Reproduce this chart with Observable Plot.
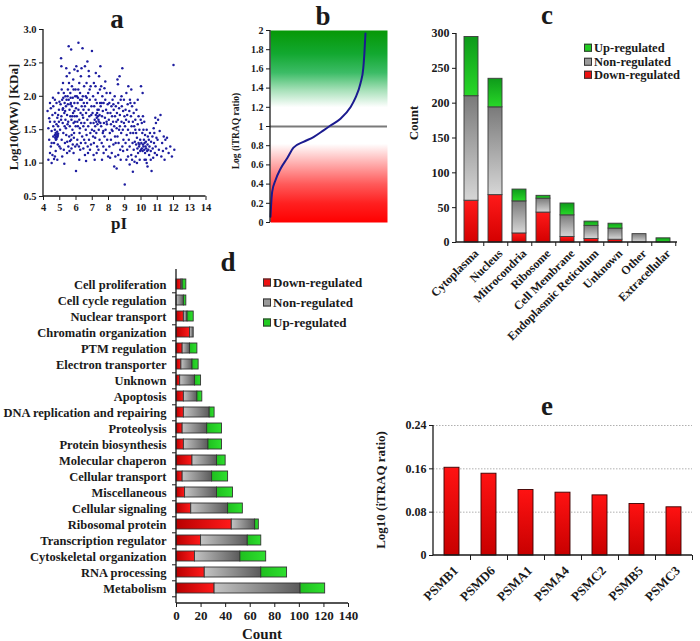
<!DOCTYPE html>
<html><head><meta charset="utf-8">
<script src="https://cdn.jsdelivr.net/npm/d3@7"></script>
<script src="https://cdn.jsdelivr.net/npm/@observablehq/plot@0.6"></script>
<style>
body{margin:0;background:#fff;}
#root{position:relative;width:700px;height:641px;overflow:hidden;font-family:"Liberation Serif","Times New Roman",serif;font-weight:bold;color:#1a1a1a;}
.t{position:absolute;font-weight:bold;white-space:nowrap;line-height:1;}
.leg{position:absolute;font-weight:bold;white-space:nowrap;display:flex;align-items:center;line-height:1;}
.sw{width:6px;height:6px;border:1px solid #333;margin-right:2px;flex:none;}
</style></head><body><div id="root"></div>
<script>
// ---------- DATA ----------
const regulationTypes = ["Down-regulated", "Non-regulated", "Up-regulated"];

// panel a: pI vs log10(MW)
const scatterPoints = [
[4.25,1.78],[4.3,1.05],[4.35,1.35],[4.4,1.9],[4.4,1.62],[4.45,1.25],[4.5,1.48],[4.5,1.0],[4.55,1.72],[4.55,1.12],[4.6,1.4],[4.6,1.85],[4.6,1.55],[4.3,1.52],[4.45,1.82],[4.35,1.67],[4.5,1.3],[4.65,1.06],[4.4,1.15],[4.58,1.98],
[4.7,1.42],[4.72,1.38],[4.75,1.45],[4.78,1.4],[4.8,1.36],[4.82,1.43],[4.85,1.39],[4.88,1.41],[4.9,1.44],[4.76,1.35],[4.84,1.47],[4.7,1.5],[4.68,1.62],[4.72,1.75],[4.8,1.9],[4.85,1.68],[4.9,1.55],[4.95,1.8],[4.98,1.25],[4.75,1.18],[4.85,1.05],[4.7,1.95],[4.92,2.05],[4.65,1.3],[4.95,1.62],[4.8,1.58],[4.88,1.28],[4.7,1.1],[4.98,1.92],[4.9,1.72],
[5.02,1.5],[5.05,1.88],[5.08,2.57],[5.1,2.45],[5.1,1.7],[5.12,1.35],[5.15,1.95],[5.18,1.6],[5.2,2.2],[5.2,1.82],[5.22,1.45],[5.25,1.2],[5.25,2.05],[5.28,1.75],[5.3,1.9],[5.3,1.55],[5.32,1.3],[5.35,2.0],[5.35,1.65],[5.38,1.85],[5.4,1.42],[5.4,2.42],[5.42,1.95],[5.45,1.72],[5.45,1.15],[5.48,1.58],[5.5,1.88],[5.5,2.1],[5.05,1.22],[5.15,1.1],[5.28,0.99],[5.12,2.1],[5.38,1.52],[5.22,1.98],[5.46,1.32],[5.18,1.8],[5.33,1.78],[5.43,2.3],[5.08,1.65],[5.48,2.0],
[5.52,1.62],[5.55,1.95],[5.55,2.75],[5.58,1.4],[5.6,1.8],[5.6,2.35],[5.62,1.55],[5.65,2.05],[5.65,1.7],[5.68,1.9],[5.7,2.7],[5.7,1.35],[5.72,1.65],[5.75,2.15],[5.75,1.85],[5.78,1.5],[5.8,1.98],[5.8,1.28],[5.82,1.75],[5.85,2.1],[5.85,1.6],[5.88,1.45],[5.9,1.9],[5.9,2.4],[5.92,1.7],[5.95,1.25],[5.95,2.0],[5.98,1.55],[6.0,0.88],[6.0,1.82],[5.53,1.25],[5.57,2.2],[5.63,1.33],[5.67,1.98],[5.73,1.42],[5.77,1.7],[5.83,2.25],[5.87,1.38],[5.93,1.62],[5.97,2.1],[5.6,1.18],[5.72,1.22],[5.85,1.15],[5.9,1.78],[5.66,1.88],
[6.02,2.45],[6.05,1.7],[6.05,2.0],[6.08,1.35],[6.1,1.9],[6.1,2.38],[6.12,1.55],[6.15,2.8],[6.15,1.8],[6.18,1.25],[6.2,2.2],[6.2,1.65],[6.22,1.45],[6.25,1.95],[6.25,2.05],[6.28,1.75],[6.3,1.3],[6.3,2.3],[6.32,1.6],[6.35,1.85],[6.38,1.4],[6.4,2.72],[6.4,1.72],[6.42,2.0],[6.45,1.55],[6.45,1.22],[6.48,1.9],[6.5,2.15],[6.5,1.35],[6.06,1.28],[6.14,2.1],[6.24,1.52],[6.34,2.42],[6.44,1.68],[6.12,1.98],[6.26,1.2],[6.36,1.95],[6.46,1.8],[6.2,1.05],[6.08,1.62],
[6.52,1.6],[6.55,2.45],[6.55,1.85],[6.58,1.3],[6.6,2.0],[6.6,1.5],[6.62,1.75],[6.65,2.2],[6.65,1.42],[6.68,1.9],[6.7,2.52],[6.7,1.65],[6.72,1.25],[6.75,2.05],[6.75,1.55],[6.78,1.8],[6.8,2.3],[6.8,1.35],[6.82,1.7],[6.85,1.95],[6.88,1.45],[6.9,2.15],[6.9,1.6],[6.92,1.28],[6.95,1.85],[6.98,2.68],[6.98,1.5],[6.55,1.12],[6.62,1.03],[6.74,1.15],[6.84,2.1],[6.94,1.72],[6.66,1.98],[6.86,1.2],[6.78,2.38],
[7.02,1.75],[7.05,2.0],[7.05,1.4],[7.08,1.6],[7.1,2.2],[7.1,1.3],[7.12,1.85],[7.15,1.65],[7.15,1.05],[7.18,1.55],[7.2,1.95],[7.2,2.15],[7.22,1.72],[7.25,1.45],[7.25,1.62],[7.28,1.68],[7.3,1.75],[7.3,1.25],[7.32,1.58],[7.35,1.7],[7.35,2.05],[7.38,1.65],[7.4,1.8],[7.4,1.5],[7.42,2.3],[7.45,1.72],[7.45,1.35],[7.48,1.9],[7.5,2.45],[7.5,1.6],[7.08,1.12],[7.18,1.38],[7.28,1.9],[7.38,1.2],[7.12,1.48],[7.22,2.35],[7.32,1.8],[7.42,1.62],[7.27,1.15],[7.47,2.1],
[7.52,1.85],[7.55,1.55],[7.55,2.15],[7.58,1.3],[7.6,1.7],[7.62,2.0],[7.65,1.45],[7.65,1.78],[7.68,1.25],[7.7,1.9],[7.72,1.6],[7.75,2.12],[7.75,1.4],[7.78,1.68],[7.8,1.95],[7.82,1.5],[7.85,1.2],[7.85,1.8],[7.88,2.05],[7.9,1.58],[7.92,1.35],[7.95,1.75],[7.98,1.1],[7.6,1.05],[7.7,1.15],[7.8,2.22],[7.58,1.9],[7.68,1.48],[7.88,1.62],[7.95,1.88],
[8.02,1.65],[8.05,1.9],[8.05,1.25],[8.08,1.45],[8.1,2.05],[8.12,1.75],[8.15,1.35],[8.15,1.58],[8.18,1.85],[8.2,1.15],[8.22,1.7],[8.25,1.95],[8.25,1.48],[8.28,1.62],[8.3,1.28],[8.32,1.8],[8.35,1.55],[8.38,2.0],[8.4,1.4],[8.4,1.7],[8.42,1.1],[8.45,1.85],[8.48,1.62],[8.5,0.92],[8.5,1.52],[8.1,1.08],[8.3,1.88],[8.2,1.5],[8.44,1.3],[8.35,0.95],
[8.52,1.75],[8.55,2.25],[8.55,1.4],[8.58,1.65],[8.6,1.9],[8.62,1.3],[8.65,1.82],[8.68,2.3],[8.7,1.55],[8.7,1.72],[8.72,1.2],[8.75,1.95],[8.78,1.45],[8.8,1.62],[8.82,1.85],[8.85,1.25],[8.85,2.42],[8.88,1.5],[8.9,1.78],[8.92,1.35],[8.95,1.6],[8.98,1.7],[9.0,0.68],[8.6,1.12],[8.75,1.05],[8.9,1.18],[8.65,1.5],[8.8,2.0],[8.95,1.95],[8.58,2.18],
[9.02,1.55],[9.05,1.8],[9.05,1.3],[9.08,1.65],[9.1,2.05],[9.12,1.42],[9.15,1.72],[9.15,1.2],[9.18,1.88],[9.2,1.5],[9.22,2.15],[9.25,1.35],[9.25,1.62],[9.28,1.78],[9.3,1.25],[9.32,1.95],[9.35,1.45],[9.38,1.7],[9.4,1.12],[9.4,2.1],[9.42,1.55],[9.45,1.85],[9.48,1.3],[9.5,0.87],[9.5,1.62],[9.1,1.05],[9.3,0.98],[9.2,1.1],[9.45,1.05],[9.35,1.9],
[9.52,1.45],[9.55,1.75],[9.55,1.2],[9.58,1.55],[9.6,1.9],[9.62,1.32],[9.65,1.65],[9.68,1.1],[9.7,1.45],[9.7,1.28],[9.72,1.8],[9.75,1.38],[9.78,1.22],[9.8,1.58],[9.82,1.15],[9.85,1.7],[9.85,1.3],[9.88,1.25],[9.9,1.5],[9.92,1.05],[9.95,1.35],[9.98,1.65],[10.0,2.15],[10.0,1.2],[9.6,1.02],[9.75,1.0],[9.9,1.28],[9.65,1.5],[9.8,1.95],[9.95,1.18],
[10.02,1.3],[10.05,1.6],[10.05,1.22],[10.08,1.45],[10.1,2.05],[10.1,1.18],[10.12,1.28],[10.15,1.5],[10.15,1.25],[10.18,1.35],[10.2,1.2],[10.2,1.62],[10.22,1.3],[10.25,1.15],[10.25,1.42],[10.28,1.25],[10.3,1.05],[10.3,1.32],[10.32,1.22],[10.35,1.5],[10.38,1.18],[10.4,1.28],[10.4,0.95],[10.42,1.4],[10.45,1.2],[10.48,1.35],[10.5,1.12],[10.12,1.7],[10.35,1.0],[10.22,1.05],
[10.52,1.25],[10.55,1.45],[10.6,1.18],[10.62,1.32],[10.65,0.88],[10.7,1.4],[10.72,1.22],[10.75,1.08],[10.8,1.3],[10.82,1.45],[10.85,1.15],[10.9,1.25],[10.92,1.6],[10.95,1.38],[10.98,1.12],[10.6,1.05],[10.78,1.52],[10.88,1.68],
[11.02,1.35],[11.05,1.65],[11.1,1.2],[11.15,1.48],[11.2,1.72],[11.25,1.1],[11.3,1.3],[11.4,1.4],[11.45,1.05],[11.5,1.35],[11.6,1.38],[11.7,1.15],[11.8,1.25],[11.9,1.1],[12.0,2.47],[12.05,1.2],[11.35,1.18],[11.55,1.22]
];
const scatterTicksX = [4, 5, 6, 7, 8, 9, 10, 11, 12, 13, 14];
const scatterTicksY = [0.5, 1.0, 1.5, 2.0, 2.5, 3.0];

// panel b: sorted log iTRAQ ratios (rank, value)
const ratioRank  = [0, 5, 17, 51, 103, 171, 236, 338, 441, 544, 615, 718, 820, 872, 923, 951, 964, 974];
const ratioValue = [0.06, 0.16, 0.32, 0.44, 0.56, 0.67, 0.78, 0.84, 0.89, 0.96, 1.01, 1.08, 1.2, 1.3, 1.45, 1.6, 1.78, 1.97];
const ratioTicks = [0, 0.2, 0.4, 0.6, 0.8, 1, 1.2, 1.4, 1.6, 1.8, 2];

// panel c: subcellular location
const locationCats = ["Cytoplasma", "Nucleus", "Mitrocondria", "Ribosome", "Cell Membrane", "Endoplasmic Reticulum", "Unknown", "Other", "Extracellular"];
const locDown = [60, 68, 13, 43, 8, 5, 4, 0, 0];
const locNon  = [150, 126, 46, 20, 31, 19, 16, 12, 0];
const locUp   = [85, 41, 17, 4, 17, 6, 7, 0, 6];
const locTicks = [0, 50, 100, 150, 200, 250, 300];

// panel d: biological function
const functionCats = ["Cell proliferation", "Cell cycle regulation", "Nuclear transport", "Chromatin organization", "PTM regulation", "Electron transporter", "Unknown", "Apoptosis", "DNA replication and repairing", "Proteolysis", "Protein biosynthesis", "Molecular chaperon", "Cellular transport", "Miscellaneous", "Cellular signaling", "Ribosomal protein", "Transcription regulator", "Cytoskeletal organization", "RNA processing", "Metabolism"];
const funcDown = [4, 0, 6, 11, 5, 4, 3, 6, 6, 5, 6, 13, 5, 7, 12, 45, 20, 15, 23, 31];
const funcNon  = [1, 6, 3, 3, 6, 9, 12, 11, 21, 20, 20, 20, 24, 26, 30, 19, 38, 37, 46, 70];
const funcUp   = [3, 2, 5, 0, 6, 5, 5, 4, 4, 12, 11, 7, 13, 13, 12, 3, 11, 21, 21, 20];
const funcTicks = [0, 20, 40, 60, 80, 100, 120, 140];

// panel e: proteasome subunits
const proteasomeGenes = ["PSMB1", "PSMD6", "PSMA1", "PSMA4", "PSMC2", "PSMB5", "PSMC3"];
const proteasomeRatio = [0.162, 0.151, 0.121, 0.116, 0.111, 0.095, 0.089];
const proteasomeTicks = [0, 0.08, 0.16, 0.24];

// ---------- TABLES ----------
const curve = ratioRank.map((r, i) => ({rank: r, value: ratioValue[i]}));
const tableC = [];
locationCats.forEach((c, i) => {
  [[regulationTypes[0], locDown[i]], [regulationTypes[1], locNon[i]], [regulationTypes[2], locUp[i]]]
    .forEach(([t, v]) => { if (v > 0) tableC.push({cat: c, type: t, count: v}); });
});
const tableD = [];
functionCats.forEach((c, i) => {
  [[regulationTypes[0], funcDown[i]], [regulationTypes[1], funcNon[i]], [regulationTypes[2], funcUp[i]]]
    .forEach(([t, v]) => { if (v > 0) tableD.push({cat: c, type: t, count: v}); });
});
const tableE = proteasomeGenes.map((g, i) => ({gene: g, ratio: proteasomeRatio[i]}));

// ---------- HELPERS ----------
const root = document.getElementById("root");
root.insertAdjacentHTML("afterbegin", `<svg width="0" height="0" style="position:absolute;left:0;top:0"><defs>
<linearGradient id="bGrad" x1="0" y1="0" x2="0" y2="1">
 <stop offset="0" stop-color="#069806"/><stop offset="0.12" stop-color="#12a830"/><stop offset="0.22" stop-color="#3cbc66"/>
 <stop offset="0.31" stop-color="#a6e0b8"/><stop offset="0.40" stop-color="#ffffff"/><stop offset="0.59" stop-color="#ffffff"/>
 <stop offset="0.70" stop-color="#ffa8a8"/><stop offset="0.80" stop-color="#ff5a5a"/><stop offset="0.90" stop-color="#ff2020"/><stop offset="1" stop-color="#ff0000"/>
</linearGradient>
<linearGradient id="cDown" x1="0" y1="0" x2="0" y2="1"><stop offset="0" stop-color="#ff1a1a"/><stop offset="1" stop-color="#d40000"/></linearGradient>
<linearGradient id="cNon" x1="0" y1="0" x2="0" y2="1"><stop offset="0" stop-color="#7a7a7a"/><stop offset="1" stop-color="#d6d6d6"/></linearGradient>
<linearGradient id="cUp" x1="0" y1="0" x2="0" y2="1"><stop offset="0" stop-color="#0e9a1a"/><stop offset="1" stop-color="#28d828"/></linearGradient>
<linearGradient id="dDown" x1="0" y1="0" x2="1" y2="0"><stop offset="0" stop-color="#b80000"/><stop offset="1" stop-color="#ff1a1a"/></linearGradient>
<linearGradient id="dNon" x1="0" y1="0" x2="1" y2="0"><stop offset="0" stop-color="#c4c4c4"/><stop offset="1" stop-color="#5a5a5a"/></linearGradient>
<linearGradient id="dUp" x1="0" y1="0" x2="1" y2="0"><stop offset="0" stop-color="#1fbf1f"/><stop offset="1" stop-color="#2ee02e"/></linearGradient>
<linearGradient id="eRed" x1="0" y1="0" x2="0" y2="1"><stop offset="0" stop-color="#ff1212"/><stop offset="1" stop-color="#c80000"/></linearGradient>
</defs></svg>`);

function place(el, left, top) {
  el.style.position = "absolute"; el.style.left = left + "px"; el.style.top = top + "px";
  el.style.overflow = "visible";
  root.appendChild(el);
}
function label(text, x, y, size, rotate) {
  const d = document.createElement("div");
  d.className = "t"; d.textContent = text;
  d.style.left = x + "px"; d.style.top = y + "px"; d.style.fontSize = size + "px";
  d.style.transform = "translate(-50%,-50%)" + (rotate ? " rotate(-90deg)" : "");
  root.appendChild(d);
}
function legend(items, x, y, gap, size) {
  items.forEach(([name, color], i) => {
    const d = document.createElement("div");
    d.className = "leg";
    d.style.left = x + "px"; d.style.top = (y + i * gap) + "px"; d.style.fontSize = size + "px";
    d.style.transform = "translateY(-50%)";
    d.innerHTML = `<span class="sw" style="background:${color}"></span><span>${name}</span>`;
    root.appendChild(d);
  });
}
function axisLines(sides) {
  return (index, scales, values, dims) => {
    const {width, height, marginLeft, marginRight, marginTop, marginBottom} = dims;
    const g = d3.create("svg:g").attr("stroke", "#1a1a1a").attr("stroke-width", 1.3);
    if (sides.includes("left")) g.append("line").attr("x1", marginLeft).attr("x2", marginLeft).attr("y1", marginTop).attr("y2", height - marginBottom);
    if (sides.includes("bottom")) g.append("line").attr("x1", marginLeft).attr("x2", width - marginRight).attr("y1", height - marginBottom).attr("y2", height - marginBottom);
    return g.node();
  };
}
const baseStyle = (size) => ({fontFamily: "'Liberation Serif', 'Times New Roman', serif", fontWeight: "bold", fontSize: size + "px", color: "#1a1a1a", background: "transparent", overflow: "visible"});

// ---------- PANEL a ----------
const plotA = Plot.plot({
  width: 215, height: 240, marginLeft: 43, marginRight: 9.5, marginTop: 29, marginBottom: 44,
  style: baseStyle(10.5),
  x: {domain: [4, 14]}, y: {domain: [0.5, 3.0]},
  marks: [
    Plot.dot(scatterPoints, {x: d => d[0], y: d => d[1], r: 1.25, fill: "#1e1ea0"}),
    Plot.axisX({ticks: scatterTicksX, tickSize: 4, tickPadding: 3, label: null}),
    Plot.axisY({ticks: scatterTicksY, tickSize: 4, tickPadding: 3, tickFormat: d3.format(".1f"), label: null}),
    axisLines(["left", "bottom"])
  ]
});
place(plotA, 0, 0);
label("a", 117, 19, 27);
label("pI", 119, 223, 17);
label("Log10(MW) [KDa]", 13, 117, 13, true);

// ---------- PANEL b ----------
const plotB = Plot.plot({
  width: 165, height: 235, marginLeft: 40, marginRight: 8, marginTop: 30, marginBottom: 13,
  style: baseStyle(10),
  x: {domain: [0, 1200], axis: null}, y: {domain: [0, 2]},
  marks: [
    Plot.frame({fill: "url(#bGrad)", stroke: null}),
    Plot.ruleY([1], {stroke: "#7a7a7a", strokeWidth: 1.8}),
    Plot.line(curve, {x: "rank", y: "value", stroke: "#1b1b8f", strokeWidth: 2, curve: "monotone-x"}),
    Plot.axisY({ticks: ratioTicks, tickSize: 4, tickPadding: 3, tickFormat: d3.format("~g"), label: null}),
    axisLines(["left"])
  ]
});
place(plotB, 230, 0);
label("b", 323, 16, 27);
label("Log (iTRAQ ratio)", 237, 131, 9.5, true);

// ---------- PANEL c ----------
const plotC = Plot.plot({
  width: 305, height: 350, marginLeft: 61, marginRight: 23, marginTop: 33, marginBottom: 108,
  style: baseStyle(11.5),
  x: {domain: locationCats, paddingInner: 0.42, paddingOuter: 0.21},
  y: {domain: [0, 300]},
  color: {domain: regulationTypes, range: ["url(#cDown)", "url(#cNon)", "url(#cUp)"]},
  marks: [
    Plot.barY(tableC, {x: "cat", y: "count", fill: "type", stroke: "#3b3b3b", strokeWidth: 0.9}),
    Plot.axisY({ticks: locTicks, tickSize: 4, tickPadding: 3, fontSize: 12, label: null}),
    Plot.axisX({tickSize: 0, tickRotate: -45, tickPadding: 9, dx: 5, fontSize: 12, label: null}),
    Plot.axisX({tickSize: 4, tickFormat: () => "", dx: 12.28, label: null}),
    axisLines(["left", "bottom"])
  ]
});
place(plotC, 395, 0);
label("c", 547, 15, 27);
label("Count", 413, 123, 13, true);
legend([["Up-regulated", "#22cc22"], ["Non-regulated", "#9a9a9a"], ["Down-regulated", "#ee1111"]], 584, 48, 13.5, 12.5);

// ---------- PANEL d ----------
const plotD = Plot.plot({
  width: 360, height: 391, marginLeft: 176, marginRight: 12, marginTop: 19, marginBottom: 38,
  style: baseStyle(12.5),
  x: {domain: [0, 140]},
  y: {domain: functionCats, paddingInner: 0.4, paddingOuter: 0.24},
  color: {domain: regulationTypes, range: ["url(#dDown)", "url(#dNon)", "url(#dUp)"]},
  marks: [
    Plot.barX(tableD, {x: "count", y: "cat", fill: "type", stroke: "#333", strokeWidth: 0.9}),
    Plot.axisX({ticks: funcTicks, tickSize: 4, tickPadding: 3, fontSize: 13, label: null}),
    Plot.axisY({tickSize: 0, tickPadding: 10, label: null}),
    Plot.axisY({tickSize: 4, tickFormat: () => "", dy: 8.3, label: null}),
    axisLines(["left", "bottom"])
  ]
});
place(plotD, 0, 250);
label("d", 228, 262, 27);
label("Count", 262, 634, 15);
legend([["Down-regulated", "#ee1111"], ["Non-regulated", "#9a9a9a"], ["Up-regulated", "#22cc22"]], 263, 282, 20, 13);

// ---------- PANEL e ----------
const plotE = Plot.plot({
  width: 330, height: 261, marginLeft: 63, marginRight: 8, marginTop: 45, marginBottom: 86,
  style: baseStyle(12),
  x: {domain: proteasomeGenes, paddingInner: 0.59, paddingOuter: 0.295},
  y: {domain: [0, 0.24]},
  marks: [
    Plot.ruleY(proteasomeTicks.slice(1), {stroke: "#b0b0b0", strokeDasharray: "1.5,1.5"}),
    Plot.barY(tableE, {x: "gene", y: "ratio", fill: "url(#eRed)", stroke: "#3a0000", strokeWidth: 0.9}),
    Plot.axisY({ticks: proteasomeTicks, tickSize: 4, tickPadding: 3, tickFormat: d => d === 0 ? "0" : d.toFixed(2), label: null}),
    Plot.axisX({tickSize: 0, tickRotate: -45, tickPadding: 13, dx: 4, fontSize: 13, label: null}),
    Plot.axisX({tickSize: 5, tickFormat: () => "", dx: 18.5, label: null}),
    axisLines(["left", "bottom"])
  ]
});
place(plotE, 370, 380);
label("e", 547, 406, 27);
label("Log10 (iTRAQ ratio)", 380, 490, 13, true);
</script></body></html>
